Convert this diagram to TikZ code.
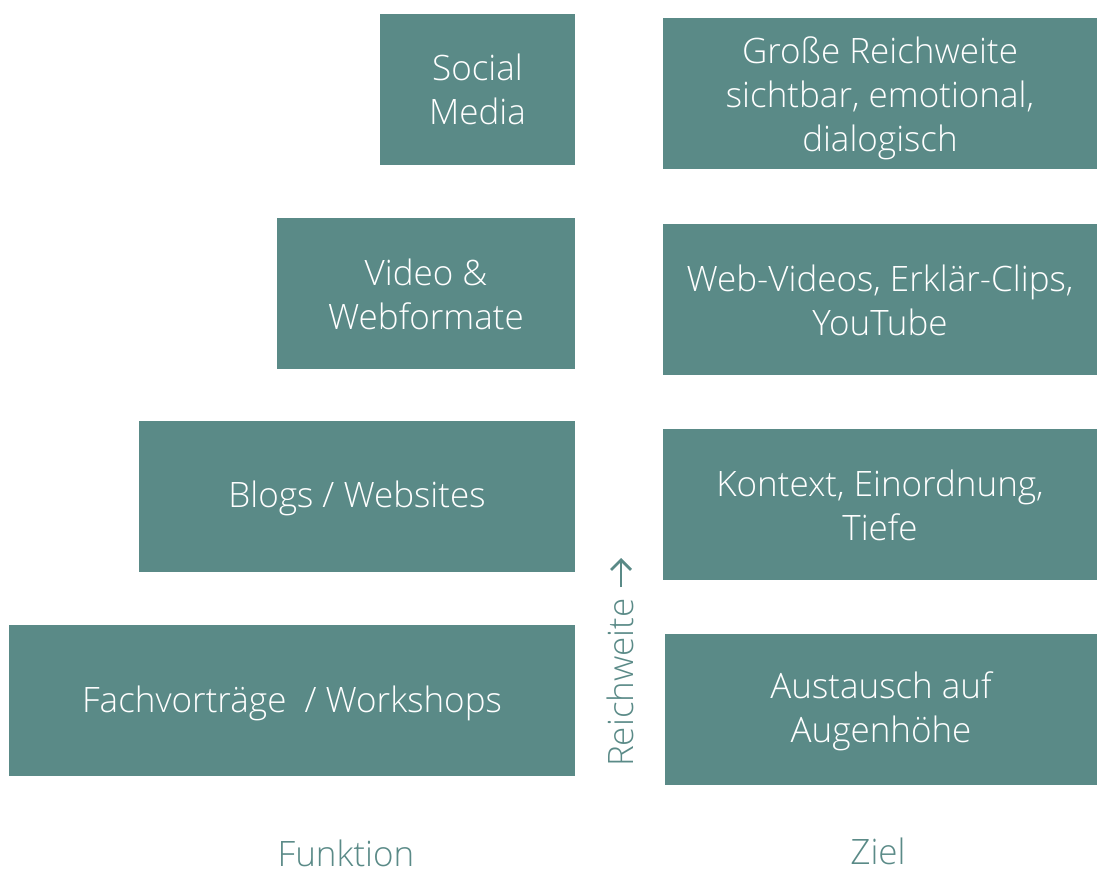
\documentclass[tikz,border=0pt]{standalone}
\usepackage{fontspec}
\setmainfont{Open Sans}[UprightFont=* Light]
\usetikzlibrary{arrows.meta}
\definecolor{teal1}{HTML}{5A8A87}
\tikzset{
  box/.style={fill=teal1, inner sep=0pt, minimum height=151pt},
  txt/.style={text=white, inner sep=0pt, align=center,
    font=\fontsize{35}{44}\selectfont},
  lab/.style={text=teal1, inner sep=0pt, font=\fontsize{35}{44}\selectfont}
}
\begin{document}
\begin{tikzpicture}[x=1pt,y=-1pt]
\useasboundingbox (0,0) rectangle (1098,877);
% left column
\node[box, minimum width=195pt, label={[txt]center:{Social\\Media}}] (sm) at (477.5,89.5) {};
\node[box, minimum width=298pt, label={[txt, yshift=-1pt]center:{Video \&\\Webformate}}] (vw) at (426,293.5) {};
\node[box, minimum width=436pt, label={[txt, yshift=-2pt]center:{Blogs / Websites}}] (bw) at (357,496.5) {};
\node[box, minimum width=566pt, label={[txt, yshift=-3pt]center:{Fachvorträge\ \ / Workshops}}] (fw) at (292,700.5) {};
% right column
\node[box, minimum width=434pt, label={[txt, yshift=-5pt]center:{Große Reichweite\\sichtbar, emotional,\\dialogisch}}] (gr) at (880,93.5) {};
\node[box, minimum width=434pt, label={[txt, yshift=-1pt]center:{Web-Videos, Erklär-Clips,\\YouTube}}] (wv) at (880,299.5) {};
\node[box, minimum width=434pt, label={[txt, yshift=-1pt]center:{Kontext, Einordnung,\\Tiefe}}] (ke) at (880,504.5) {};
\node[box, minimum width=432pt, label={[txt, yshift=-2pt]center:{Austausch auf\\Augenhöhe}}] (au) at (881,709.5) {};
% reach label
\node[lab, rotate=90, anchor=south west] (rw) at (634,767) {Reichweite};
\coordinate (a1) at (621,587);
\coordinate (a2) at (621,558);
\draw[teal1, line width=2.8pt, -{Straight Barb[length=10pt,width=20pt,line width=2.8pt]}] (a1) -- (a2);
% column labels
\node[lab, anchor=base] (fk) at (346,866) {Funktion};
\node[lab, anchor=base] (zl) at (878,864) {Ziel};
\end{tikzpicture}
\end{document}
